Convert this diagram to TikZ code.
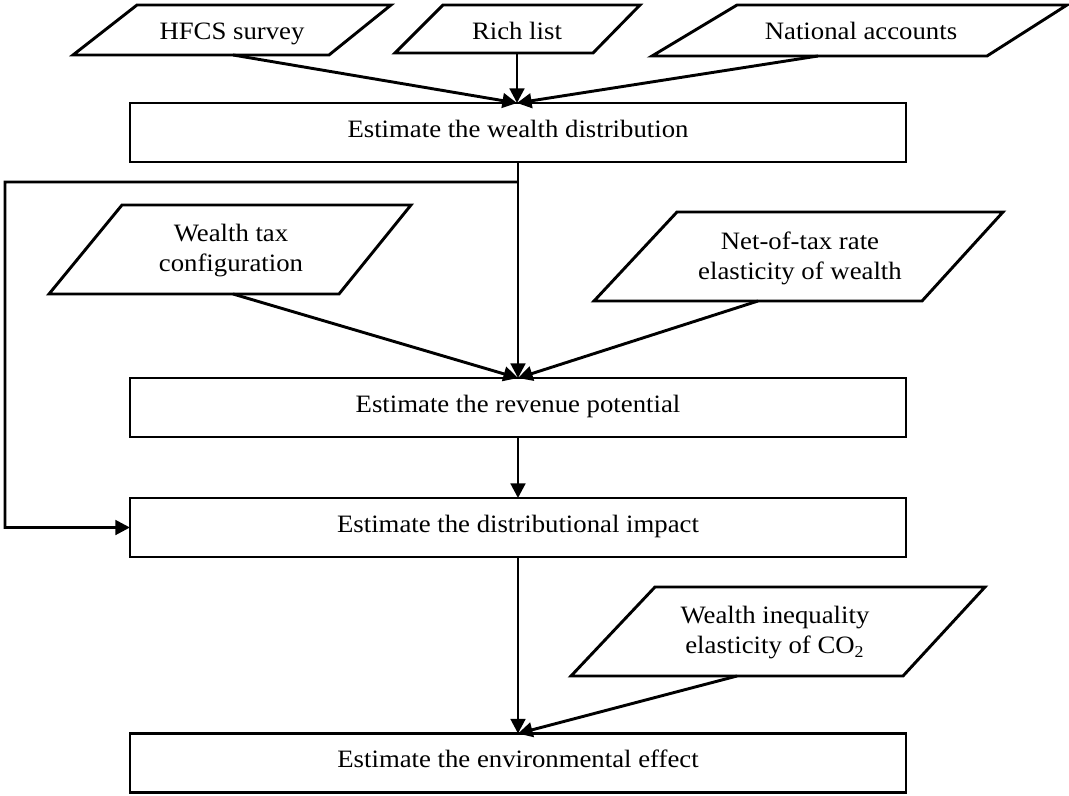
\documentclass[tikz,border=0pt]{standalone}
\usepackage{fontspec}
\setmainfont[FakeStretch=1.07]{Liberation Serif}
\usetikzlibrary{arrows.meta,calc}
\begin{document}
\begin{tikzpicture}[x=0.48pt,y=-0.48pt,
  every node/.style={font=\fontsize{12}{14.4}\selectfont},
  stepbox/.style={draw,line width=1.4pt,rectangle,minimum width=372.5pt,minimum height=28.3pt,
    inner sep=0pt,outer sep=0pt,text height=0.7em,text depth=0.25em},
  para/.style={draw,line width=1.4pt,line join=miter},
  onel/.style={inner sep=0pt,text height=0.7em,text depth=0.25em},
  twol/.style={inner sep=0pt,align=center},
  arr/.style={line width=1.4pt,-{Triangle[length=7pt,width=7pt]}}]
\useasboundingbox (0,0) rectangle (1069,796);

% process boxes
\node[stepbox] (b1) at (518,132.5) {Estimate the wealth distribution};
\node[stepbox] (b2) at (518,407.5) {Estimate the revenue potential};
\node[stepbox] (b3) at (518,527.5) {Estimate the distributional impact};
\node[stepbox] (b4) at (518,763) {Estimate the environmental effect};

% input parallelograms
\draw[para] (73,55) -- (329,55) -- (391,5) -- (137,5) -- cycle;
\node[onel] (hfcs) at (232,34.4) {HFCS survey};
\draw[para] (395,53) -- (593,53) -- (640,5) -- (443,5) -- cycle;
\node[onel] (rich) at (517,34.4) {Rich list};
\draw[para] (652,56) -- (987,56) -- (1067,5) -- (737,5) -- cycle;
\node[onel] (nat) at (861,34.4) {National accounts};

\draw[para] (49,294) -- (339,294) -- (411,205) -- (122,205) -- cycle;
\node[twol] (wtc) at (231,251) {Wealth tax\\configuration};
\draw[para] (594,301) -- (922,301) -- (1003,212) -- (677,212) -- cycle;
\node[twol] (ntr) at (800,258) {Net-of-tax rate\\elasticity of wealth};
\draw[para] (571,676) -- (903,676) -- (985,587) -- (655,587) -- cycle;
\node[twol] (co2) at (775,633) {Wealth inequality\\elasticity of CO\textsubscript{2}};

% connector end points
\coordinate (hfcsout) at (233,55);
\coordinate (richout) at (517,53);
\coordinate (natout) at (818,56);
\coordinate (b1in) at ($(b1.north)+(-1,0)$);
\coordinate (b1out) at (b1.south);
\coordinate (b2in) at (b2.north);
\coordinate (b2out) at (b2.south);
\coordinate (b3in) at (b3.north);
\coordinate (b3out) at (b3.south);
\coordinate (b4in) at (b4.north);
\coordinate (wtcout) at (233,294);
\coordinate (ntrout) at (758,301);
\coordinate (co2out) at (737,676);
\coordinate (jn) at ($(b1.south)+(0,20)$);
\coordinate (lp) at (5,182);

% connectors
\draw[arr] (hfcsout) -- (b1in);
\draw[arr] (richout) -- (b1in);
\draw[arr] (natout) -- (b1in);
\draw[arr] (b1out) -- (b2in);
\draw[arr] (wtcout) -- (b2in);
\draw[arr] (ntrout) -- (b2in);
\draw[arr] (b2out) -- (b3in);
\draw[arr] (jn) -- (lp) |- (b3.west);
\draw[arr] (b3out) -- (b4in);
\draw[arr] (co2out) -- (b4in);
\end{tikzpicture}
\end{document}
